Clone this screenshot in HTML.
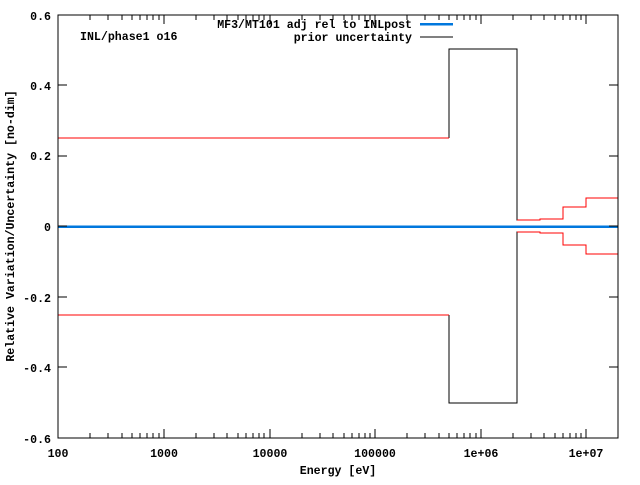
<!DOCTYPE html>
<html><head><style>body{margin:0;background:#fff}</style></head><body>
<svg width="640" height="480" xmlns="http://www.w3.org/2000/svg" font-family="Liberation Mono, DejaVu Sans Mono, monospace" font-size="11.6" font-weight="bold" shape-rendering="crispEdges">
<rect width="640" height="480" fill="#fff"/>
<g fill="#000" text-anchor="end">
<text x="51" y="20">0.6</text><text x="51" y="90">0.4</text><text x="51" y="160">0.2</text><text x="51" y="231">0</text><text x="51" y="302">-0.2</text><text x="51" y="372">-0.4</text><text x="51" y="443">-0.6</text>
</g>
<g fill="#000" text-anchor="middle">
<text x="58" y="457">100</text><text x="164" y="457">1000</text><text x="270" y="457">10000</text><text x="375" y="457">100000</text><text x="481" y="457">1e+06</text><text x="586" y="457">1e+07</text>
<text x="338" y="474">Energy [eV]</text>
<text transform="translate(14,226) rotate(-90)">Relative Variation/Uncertainty [no-dim]</text>
</g>
<text x="80" y="40">INL/phase1 o16</text>
<g text-anchor="end"><text x="412" y="28">MF3/MT101 adj rel to INLpost</text><text x="412" y="41">prior uncertainty</text></g>
<line x1="420" y1="24" x2="453" y2="24" stroke="#0077dd" stroke-width="2.5"/>
<line x1="420" y1="37" x2="453" y2="37" stroke="#000"/>
<line x1="58" y1="226.5" x2="618" y2="226.5" stroke="#0077dd" stroke-width="2.5"/>
<polyline fill="none" stroke="#000" points="449,138 449,49 517,49 517,220 540,220 540,219 563,219 563,207 586,207 586,198 618,198"/>
<polyline fill="none" stroke="#000" points="449,315 449,403 517,403 517,232 540,232 540,233 563,233 563,245 586,245 586,254 618,254"/>
<polyline fill="none" stroke="red" points="58,138 449,138"/>
<polyline fill="none" stroke="red" points="58,315 449,315"/>
<polyline fill="none" stroke="red" points="517,220 540,220 540,219 563,219 563,207 586,207 586,198 618,198"/>
<polyline fill="none" stroke="red" points="517,232 540,232 540,233 563,233 563,245 586,245 586,254 618,254"/>
<path stroke="#000" fill="none" d="
M58,15H618V438H58Z
M58,85h9M618,85h-9M58,156h9M618,156h-9M58,226h9M618,226h-9M58,297h9M618,297h-9M58,367h9M618,367h-9
M164,438v-9M164,15v9M270,438v-9M270,15v9M375,438v-9M375,15v9M481,438v-9M481,15v9M586,438v-9M586,15v9
M90,438v-5M90,15v5M108,438v-5M108,15v5M122,438v-5M122,15v5M132,438v-5M132,15v5M140,438v-5M140,15v5M147,438v-5M147,15v5M153,438v-5M153,15v5M159,438v-5M159,15v5
M196,438v-5M196,15v5M214,438v-5M214,15v5M227,438v-5M227,15v5M238,438v-5M238,15v5M246,438v-5M246,15v5M253,438v-5M253,15v5M259,438v-5M259,15v5M264,438v-5M264,15v5
M302,438v-5M302,15v5M320,438v-5M320,15v5M333,438v-5M333,15v5M344,438v-5M344,15v5M352,438v-5M352,15v5M359,438v-5M359,15v5M365,438v-5M365,15v5M370,438v-5M370,15v5
M407,438v-5M407,15v5M425,438v-5M425,15v5M439,438v-5M439,15v5M449,438v-5M449,15v5M457,438v-5M457,15v5M464,438v-5M464,15v5M470,438v-5M470,15v5M476,438v-5M476,15v5
M513,438v-5M513,15v5M531,438v-5M531,15v5M544,438v-5M544,15v5M555,438v-5M555,15v5M563,438v-5M563,15v5M570,438v-5M570,15v5M576,438v-5M576,15v5M581,438v-5M581,15v5
M618,438v-5"/>
</svg>
</body></html>
